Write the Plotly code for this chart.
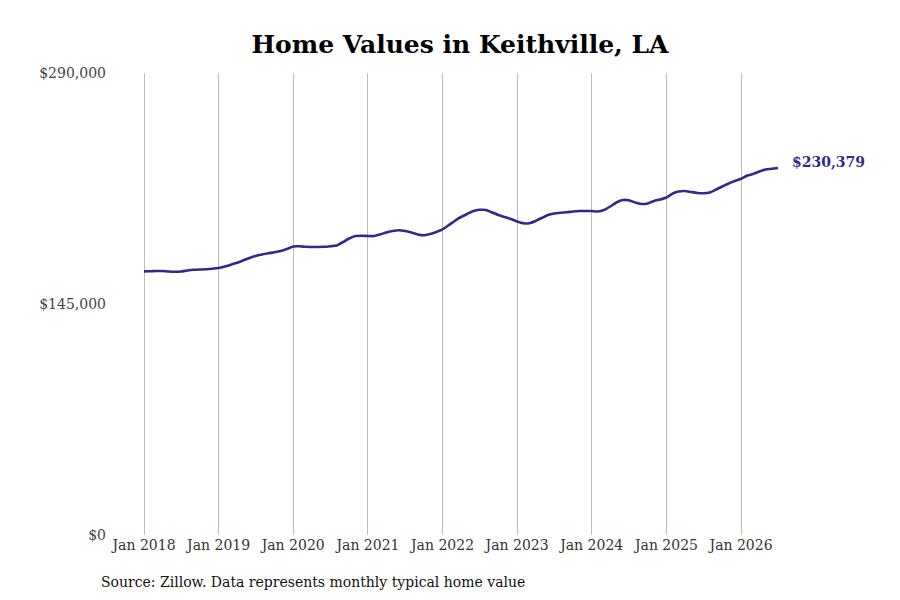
import pandas as pd
import plotly.graph_objects as go

start_month = "2018-01-01"
home_values = [
    165500, 165590, 165715, 165715, 165400, 165275, 165400, 166030, 166470, 166660, 166785, 167100,
    167600, 168540, 169610, 170860, 172310, 173870, 175130, 176070, 176830, 177450, 178270, 179520,
    181090, 181220, 180910, 180780, 180780, 180910, 181280, 181720, 183920, 186120, 187680, 187870,
    187680, 187680, 188630, 189880, 190820, 191260, 190820, 189880, 188630, 188120, 188940, 190200,
    191890, 194590, 197100, 199610, 201500, 203380, 204130, 204010, 202440, 200870, 199610, 198360,
    196790, 195660, 195660, 197100, 198980, 200870, 201810, 202250, 202560, 203060, 203380, 203380,
    203380, 203060, 204010, 206200, 208710, 210280, 210090, 208710, 207770, 208080, 209660, 210600,
    211850, 214360, 215620, 215930, 215300, 214680, 214490, 214990, 216870, 218760, 220640, 222210,
    223650, 225660, 226600, 228170, 229430, 229900, 230379,
]
tick_dates = ["2018-01-01", "2019-01-01", "2020-01-01", "2021-01-01", "2022-01-01",
              "2023-01-01", "2024-01-01", "2025-01-01", "2026-01-01"]
tick_labels = ["Jan 2018", "Jan 2019", "Jan 2020", "Jan 2021", "Jan 2022",
               "Jan 2023", "Jan 2024", "Jan 2025", "Jan 2026"]
y_ticks = [0, 145000, 290000]
y_labels = ["$0", "$145,000", "$290,000"]
title_text = "Home Values in Keithville, LA"
source_text = "Source: Zillow. Data represents monthly typical home value"

dates = pd.date_range(start_month, periods=len(home_values), freq="MS")
line_color = "#2e2b8c"
serif = "DejaVu Serif"

# page offset of the rendered figure (body margin)
off = 8
W, H = 900, 600
ml, mr, mt, mb = 115 - off, 95 + off, 73 - off, 65 + off
plot_w = W - ml - mr
plot_h = H - mt - mb

fig = go.Figure()
fig.add_trace(go.Scatter(
    x=dates, y=home_values, mode="lines",
    line=dict(color=line_color, width=2.6, shape="spline", smoothing=0.5),
    hoverinfo="skip", showlegend=False,
))

fig.add_annotation(
    x=dates[-1], y=home_values[-1], xref="x", yref="y",
    text="<b>$" + f"{home_values[-1]:,}" + "</b>",
    showarrow=False, xanchor="left", xshift=12, yshift=6,
    font=dict(family=serif, size=14, color=line_color),
)
fig.add_annotation(
    x=(99 - off - ml) / plot_w, y=-(582 - off - (mt + plot_h)) / plot_h,
    xref="paper", yref="paper",
    text=source_text, showarrow=False, xanchor="left", yanchor="middle",
    font=dict(family=serif, size=14, color="#111111"),
)

fig.update_layout(
    width=W, height=H,
    paper_bgcolor="white", plot_bgcolor="white",
    margin=dict(l=ml, r=mr, t=mt, b=mb),
    title=dict(text="<b>" + title_text + "</b>", x=(460 - off) / W, xanchor="center",
               y=1 - (44 - off) / H, yanchor="middle",
               font=dict(family=serif, size=25, color="#000000")),
    xaxis=dict(
        range=["2017-08-12", "2026-11-10"],
        tickvals=tick_dates, ticktext=tick_labels,
        showgrid=True, gridcolor="#bdbdbd", gridwidth=1,
        zeroline=False, showline=False, ticks="",
        tickfont=dict(family=serif, size=14, color="#333333"),
    ),
    yaxis=dict(
        range=[0, 290000],
        tickvals=y_ticks, ticktext=y_labels,
        showgrid=False, zeroline=False, showline=False, ticks="",
        ticklabelstandoff=8,
        tickfont=dict(family=serif, size=14, color="#444444"),
    ),
)

fig.write_html("out.html")
